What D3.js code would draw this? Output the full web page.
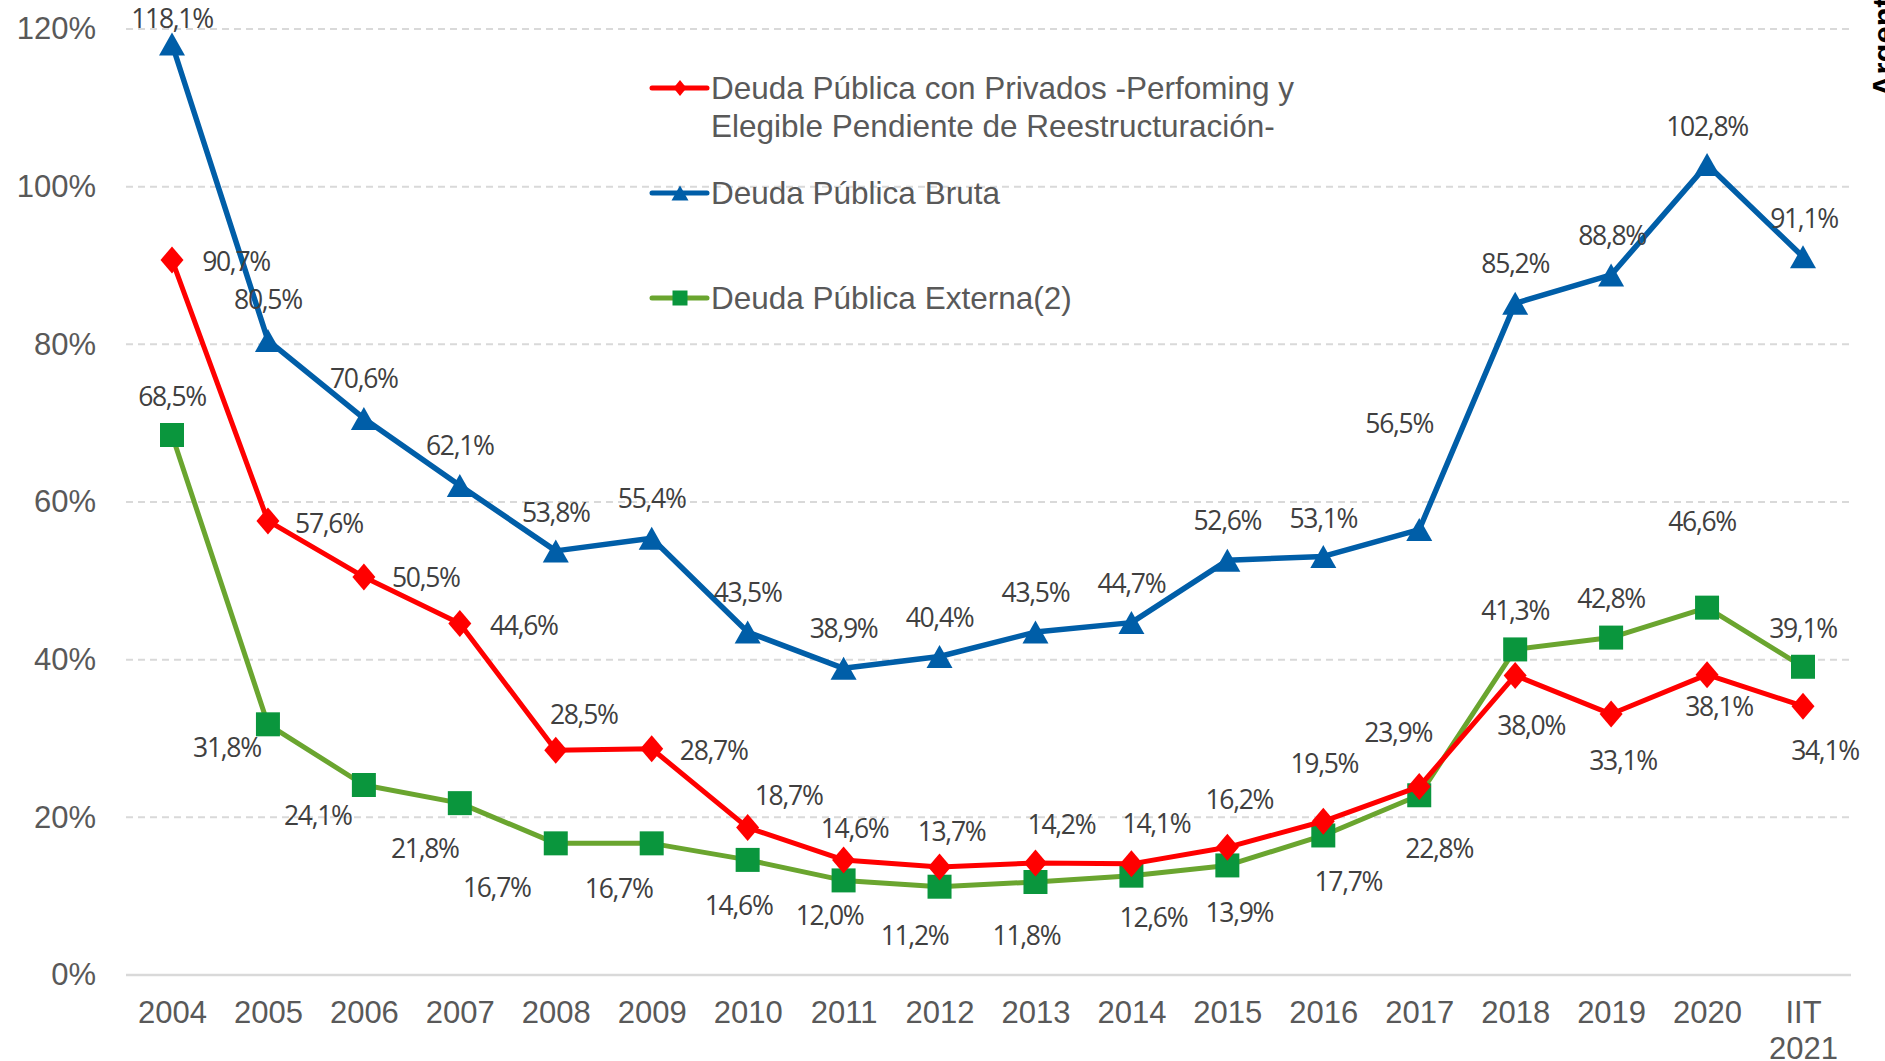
<!DOCTYPE html>
<html>
<head>
<meta charset="utf-8">
<script src="https://cdn.jsdelivr.net/npm/d3@7/dist/d3.min.js"></script>
<style>
  html, body { margin: 0; padding: 0; background: #fff; overflow: hidden; }
  svg { display: block; }
</style>
</head>
<body>
<svg id="chart" width="1885" height="1061"></svg>
<script>
const categories = ['2004', '2005', '2006', '2007', '2008', '2009', '2010', '2011', '2012',
  '2013', '2014', '2015', '2016', '2017', '2018', '2019', '2020', 'IIT 2021']

const brutaValues = [118.1, 80.5, 70.6, 62.1, 53.8, 55.4, 43.5, 38.9, 40.4,
  43.5, 44.7, 52.6, 53.1, 56.5, 85.2, 88.8, 102.8, 91.1]
const privadosValues = [90.7, 57.6, 50.5, 44.6, 28.5, 28.7, 18.7, 14.6, 13.7,
  14.2, 14.1, 16.2, 19.5, 23.9, 38.0, 33.1, 38.1, 34.1]
const externaValues = [68.5, 31.8, 24.1, 21.8, 16.7, 16.7, 14.6, 12.0, 11.2,
  11.8, 12.6, 13.9, 17.7, 22.8, 41.3, 42.8, 46.6, 39.1]

const yTicks = [0, 20, 40, 60, 80, 100, 120]

const legendLabels = [
  ['Deuda Pública con Privados -Perfoming y', 'Elegible Pendiente de Reestructuración-'],
  ['Deuda Pública Bruta'],
  ['Deuda Pública Externa(2)']
]

// label placement (px from the marker centre), as laid out in the original
const brutaLabelOffsets = [[0, -26], [0, -41], [0, -40], [0, -40], [0, -39], [0, -40], [0, -40], [0, -40], [0, -40],
  [0, -40], [0, -40], [0, -40], [0, -38], [-20, -107], [0, -40], [1, -40], [0, -39], [1, -39]]
const privadosLabelOffsets = [[64, 1], [61, 2], [62, 0], [64, 2], [28, -36], [62, 1], [41, -33], [11, -32], [12, -36],
  [26, -39], [25, -41], [12, -48], [1, -58], [-21, -55], [16, 50], [12, 46], [12, 31], [22, 44]]
const externaLabelOffsets = [[0, -39], [-41, 23], [-46, 30], [-35, 45], [-59, 44], [-33, 45], [-9, 45], [-14, 35], [-25, 48],
  [-9, 53], [22, 41], [12, 47], [25, 46], [20, 53], [0, -39], [0, -40], [-5, -87], [0, -39]]

const AXIS_FONT = 'Liberation Sans, Arial, sans-serif'
const LABEL_FONT = '"Open Sans", "Liberation Sans", sans-serif'
const TEXT_GREY = '#595959'
const LABEL_GREY = '#404040'

const RED = '#ff0000'
const BLUE = '#005ea8'
const GREEN_LINE = '#6aa52f'
const GREEN_MARK = '#0a963d'

const svg = d3.select('#chart')

const x = d3.scalePoint().domain(categories).range([172, 1803])
const y = d3.scaleLinear().domain([0, 120]).range([975, 29])

// grid
const grid = svg.append('g')
grid.selectAll('line')
  .data(yTicks.filter(t => t > 0))
  .join('line')
  .attr('x1', 126).attr('x2', 1851)
  .attr('y1', d => y(d)).attr('y2', d => y(d))
  .attr('stroke', '#d9d9d9')
  .attr('stroke-width', 2)
  .attr('stroke-dasharray', '7 5')

svg.append('line')
  .attr('x1', 126).attr('x2', 1851)
  .attr('y1', y(0)).attr('y2', y(0))
  .attr('stroke', '#d9d9d9')
  .attr('stroke-width', 2.5)

// y axis labels
const yAxis = svg.append('g')
  .attr('transform', 'translate(96,0)')
  .call(d3.axisLeft(y).tickValues(yTicks).tickSize(0).tickPadding(0).tickFormat(d => `${d}%`))
yAxis.select('.domain').remove()
yAxis.selectAll('text')
  .attr('font-family', AXIS_FONT)
  .attr('font-size', 31)
  .attr('fill', TEXT_GREY)

// x axis labels
const xAxis = svg.append('g')
  .attr('transform', `translate(0,${y(0)})`)
  .call(d3.axisBottom(x).tickSize(0).tickPadding(0).tickFormat(() => ''))
xAxis.select('.domain').remove()
xAxis.selectAll('.tick text').each(function (d) {
  const t = d3.select(this)
    .attr('font-family', AXIS_FONT)
    .attr('font-size', 31)
    .attr('fill', TEXT_GREY)
    .attr('y', 48)
    .attr('dy', null)
  d.split(' ').forEach((part, i) => {
    t.append('tspan').attr('x', 0).attr('dy', i === 0 ? 0 : 36).text(part)
  })
})

// markers
function trianglePath(w, h) {
  return `M0,${-h / 2}L${w / 2},${h / 2}L${-w / 2},${h / 2}Z`
}
function diamondPath(w, h) {
  return `M0,${-h / 2}L${w / 2},0L0,${h / 2}L${-w / 2},0Z`
}
function squarePath(s) {
  return `M${-s / 2},${-s / 2}h${s}v${s}h${-s}Z`
}

const series = [
  { values: externaValues, offsets: externaLabelOffsets, line: GREEN_LINE, mark: GREEN_MARK, width: 5, shape: squarePath(24), legendShape: squarePath(15) },
  { values: privadosValues, offsets: privadosLabelOffsets, line: RED, mark: RED, width: 5, shape: diamondPath(23, 27), legendShape: diamondPath(13, 16) },
  { values: brutaValues, offsets: brutaLabelOffsets, line: BLUE, mark: BLUE, width: 5.5, shape: trianglePath(26, 23), legendShape: trianglePath(17, 15) }
]

const lineGen = d3.line()
  .x((d, i) => x(categories[i]))
  .y(d => y(d))

const plot = svg.append('g')
series.forEach(s => {
  plot.append('path')
    .datum(s.values)
    .attr('d', lineGen)
    .attr('fill', 'none')
    .attr('stroke', s.line)
    .attr('stroke-width', s.width)
    .attr('stroke-linejoin', 'round')

  plot.append('g')
    .selectAll('path')
    .data(s.values)
    .join('path')
    .attr('d', s.shape)
    .attr('transform', (d, i) => `translate(${x(categories[i])},${y(d)})`)
    .attr('fill', s.mark)
})

// data labels
const labels = svg.append('g')
series.forEach(s => {
  labels.append('g')
    .selectAll('text')
    .data(s.values)
    .join('text')
    .attr('x', (d, i) => x(categories[i]) + s.offsets[i][0])
    .attr('y', (d, i) => y(d) + s.offsets[i][1])
    .attr('text-anchor', 'middle')
    .attr('dominant-baseline', 'central')
    .attr('font-family', LABEL_FONT)
    .attr('font-size', 26.5)
    .attr('letter-spacing', -1.3)
    .attr('fill', LABEL_GREY)
    .text(d => `${d.toFixed(1).replace('.', ',')}%`)
})

// legend
const legendOrder = [series[1], series[2], series[0]]
const legendY = [88, 193, 298]
const legend = svg.append('g')
legendOrder.forEach((s, i) => {
  const g = legend.append('g').attr('transform', `translate(652,${legendY[i]})`)
  g.append('line')
    .attr('x1', 0).attr('x2', 55)
    .attr('stroke', s.line)
    .attr('stroke-width', 5)
    .attr('stroke-linecap', 'round')
  g.append('path')
    .attr('d', s.legendShape)
    .attr('transform', 'translate(28,0)')
    .attr('fill', s.mark)
  const t = g.append('text')
    .attr('x', 59)
    .attr('font-family', AXIS_FONT)
    .attr('font-size', 31.5)
    .attr('fill', TEXT_GREY)
  legendLabels[i].forEach((line, j) => {
    t.append('tspan')
      .attr('x', 59)
      .attr('y', j * 38)
      .attr('dy', '0.35em')
      .text(line)
  })
})

// title cut off at the right edge
svg.append('text')
  .attr('transform', 'translate(1895,97) rotate(-90)')
  .attr('font-family', AXIS_FONT)
  .attr('font-weight', 700)
  .attr('font-size', 31)
  .attr('fill', '#000')
  .text('Argentina')
</script>
</body>
</html>
